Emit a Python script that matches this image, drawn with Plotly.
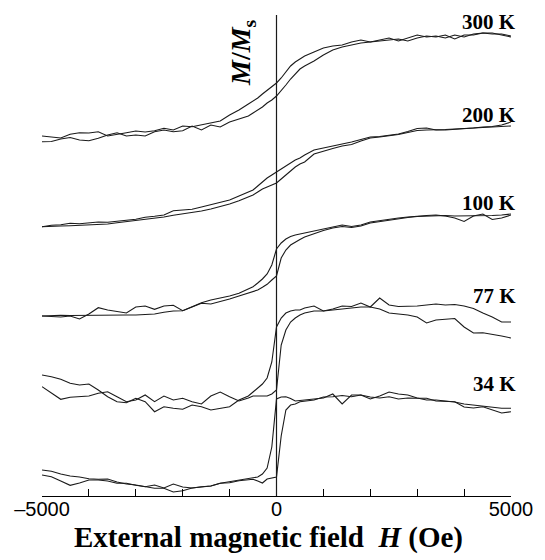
import plotly.graph_objects as go

# External field H (Oe)
H = [-5000, -4800, -4600, -4400, -4200, -4000, -3800, -3600, -3400, -3200, -3000,
     -2800, -2600, -2400, -2200, -2000, -1800, -1600, -1400, -1200, -1000, -800, -600,
     -500, -400, -300, -200, -100, 0, 100, 200, 300, 400, 500,
     600, 800, 1000, 1200, 1400, 1600, 1800, 2000, 2200, 2400, 2600, 2800, 3000,
     3200, 3400, 3600, 3800, 4000, 4200, 4400, 4600, 4800, 5000]

# M/Ms (vertically offset, arbitrary units); desc = decreasing-field branch, asc = increasing-field branch
m300_desc = [360, 359, 358, 361.7, 363.3, 363, 364.3, 360, 361.3, 363.3, 365, 364, 365.3, 367.7, 366, 370,
             369.3, 371, 372.7, 375, 381, 386, 392,
             395, 398, 402, 405.5, 409, 413, 418, 424, 430, 434, 437,
             440, 444, 448, 450, 451, 454, 456, 454, 456, 458, 455, 458, 461, 459, 460, 458, 461, 459,
             462, 463, 463, 461, 459]
m300_asc = [354.3, 354.5, 357, 358.5, 356, 355.3, 357.7, 361, 363.3, 360, 361, 360, 364.3, 366, 364.3, 365.3,
            370, 366, 371, 369, 374, 377, 380,
            383, 386, 389, 393, 396, 400, 405, 411, 417, 422, 427,
            430, 435, 441, 446, 449, 451, 453, 454, 455, 456, 457, 455, 458, 460, 459, 461, 457, 461,
            461, 463, 462, 462, 460]

m200_desc = [269.3, 270.7, 271.3, 272.7, 272.3, 273.3, 274, 273.7, 275, 275.7, 276.7, 278.7, 279.7, 281,
             285.3, 286.3, 286.7, 289, 291.3, 293, 296, 300, 304,
             306, 310, 314, 318, 321, 324, 327, 330, 333, 336, 338,
             341, 346, 348, 350, 351.5, 354, 356.5, 359, 359.5, 361, 362, 364.5, 367.5, 368, 366, 366,
             366.5, 367.5, 368, 369, 369.5, 371, 374]
m200_asc = [269.3, 269.3, 270, 270.3, 270.7, 271.3, 271.3, 272, 273.3, 274.3, 275.7, 276.7, 277.7, 279,
            280.7, 282, 283.3, 285, 287, 289.3, 292, 295.3, 299,
            301, 304, 307, 309, 311, 313, 317, 321, 325, 329, 332,
            334, 342, 345, 347.5, 350, 351.5, 355, 358, 359, 360, 361.5, 363.5, 365.5, 366, 366, 366.5,
            367, 367.3, 367.7, 368.5, 369, 369.5, 370]

m100_desc = [180, 179.3, 179, 180, 177, 182, 188.3, 186, 184.3, 183, 189, 190, 186.7, 190, 190.7, 185.3,
             189.3, 193.3, 196, 197.7, 200, 202.7, 207,
             209.3, 213, 217, 222, 231, 247, 253, 257, 259.5, 261, 262,
             263, 264.5, 266.5, 269, 271, 269.5, 271, 274, 275.5, 277, 278, 279, 280, 280.5, 281, 280,
             278, 274.5, 280, 282, 276.5, 278, 281]
m100_asc = [180, 180.7, 180.7, 180.5, 180.7, 180.7, 180.7, 181, 181, 181, 181, 181.3, 182, 183.7, 185,
            185.3, 188.7, 192.7, 192, 194.3, 197, 200, 202.7,
            204.3, 206, 208.7, 211.7, 216, 220, 238, 246, 251, 254, 256.5,
            259, 262.5, 265.5, 268, 269.5, 268.5, 270, 273, 274.5, 275.5, 277.5, 278.5, 279.5, 280,
            280.5, 280.5, 280, 280, 280, 280, 280.5, 281, 282]

m77_desc = [121, 119.3, 116.7, 112.7, 111, 112, 106, 99.3, 94.3, 93.3, 97.7, 94.3, 84.3, 89.3, 87.7, 86.7,
            91, 89.3, 86, 88, 89.3, 96, 100,
            104, 108, 112, 118, 134, 169, 178, 183, 185, 186, 186,
            188, 190, 185, 187, 190, 189.5, 193, 189, 198, 191, 189.5, 189.5, 190, 191, 192, 191,
            191.5, 190, 187.5, 183, 179, 174, 174]
m77_asc = [109.3, 102.7, 96.7, 98.7, 99.3, 100, 102.7, 104.3, 99.3, 94.3, 96, 101, 94.3, 100, 96, 97.7,
           94.3, 92, 100, 104, 99.3, 95, 98,
           100, 100, 100, 100, 102, 106, 151, 166, 174, 178, 181,
           183, 185, 185, 186, 187, 188, 189, 189, 187, 183, 182, 181, 179, 173, 176, 177,
           177.5, 169, 163, 163.3, 162, 160, 158]

m34_desc = [26, 24.7, 22, 20, 19, 17.3, 16.7, 17, 14, 12, 11, 9.3, 7.7, 7.7, 4, 5.3,
            8, 9.3, 10, 12.7, 14.3, 15.3, 17,
            17.7, 19, 22, 28, 49, 97, 99, 99.3, 97.5, 95, 95.5,
            96, 97.7, 98, 102, 92, 101, 101, 97, 100, 104, 102, 101, 98, 96, 96, 95,
            94, 92, 91, 89.3, 89, 87.7, 87.7]
m34_asc = [21, 19.3, 15, 10.7, 13, 16, 16, 15, 12.7, 12.7, 10.7, 9.3, 11, 8, 12, 9,
           8, 9, 10, 12.7, 13.3, 15.3, 16.3,
           16.7, 15, 13, 17, 18, 19, 60, 86, 91, 92, 94.3,
           95, 96, 99, 99.3, 100.5, 99.3, 101, 99, 98, 99.3, 97, 98, 97.7, 97.7, 95, 94.3,
           94.3, 89, 88, 89.3, 86, 83, 84.3]

temperatures = ["300 K", "200 K", "100 K", "77 K", "34 K"]
branches = [(m300_desc, m300_asc), (m200_desc, m200_asc), (m100_desc, m100_asc),
            (m77_desc, m77_asc), (m34_desc, m34_asc)]
tick_vals = [-5000, -4000, -3000, -2000, -1000, 0, 1000, 2000, 3000, 4000, 5000]
tick_text = ["\u20135000", "", "", "", "", "0", "", "", "", "", "5000"]

fig = go.Figure()
for (desc, asc), t in zip(branches, temperatures):
    for ys in (desc, asc):
        fig.add_trace(go.Scatter(x=H, y=ys, mode="lines", name=t, showlegend=False,
                                 line=dict(color="#1a1a1a", width=1.1), hoverinfo="skip"))

serif = "Liberation Serif, Times New Roman, serif"
label_y = [474, 381.5, 293.5, 200.5, 112]
for t, ly in zip(temperatures, label_y):
    fig.add_annotation(x=1.0147, y=ly, xref="paper", yref="y", text="<b>%s</b>" % t, showarrow=False,
                       xanchor="right", yanchor="middle", font=dict(family=serif, size=21, color="black"))

fig.add_annotation(x=-735, y=443, xref="x", yref="y", text="<b><i>M</i>/<i>M</i><sub>s</sub></b>",
                   textangle=-90, showarrow=False, xanchor="center", yanchor="middle",
                   font=dict(family=serif, size=28, color="black"))

fig.add_annotation(x=0.483, y=-0.086, xref="paper", yref="paper",
                   text="<b>External magnetic field\u00a0\u00a0<i>H</i> (Oe)</b>", showarrow=False,
                   xanchor="center", yanchor="middle", font=dict(family=serif, size=29, color="black"))

fig.add_shape(type="line", x0=0, x1=0, xref="x", y0=0, y1=1, yref="paper",
              line=dict(color="#1a1a1a", width=1.2))

fig.update_layout(
    width=545, height=560, autosize=False,
    margin=dict(l=42, r=27, t=15, b=64),
    paper_bgcolor="white", plot_bgcolor="white",
    xaxis=dict(range=[-5000, 5000], tickvals=tick_vals, ticktext=tick_text, ticks="inside",
               ticklen=7, tickwidth=1, tickcolor="black", showline=True, linecolor="black",
               linewidth=1, showgrid=False, zeroline=False, ticklabelstandoff=-5,
               tickfont=dict(family="Liberation Sans, Arial, sans-serif", size=20, color="black")),
    yaxis=dict(range=[0, 481], visible=False, showgrid=False, zeroline=False),
)

fig.write_html("out.html", config={"displayModeBar": False, "responsive": False},
               post_script="document.body.style.margin='0';document.body.style.overflow='hidden';")
